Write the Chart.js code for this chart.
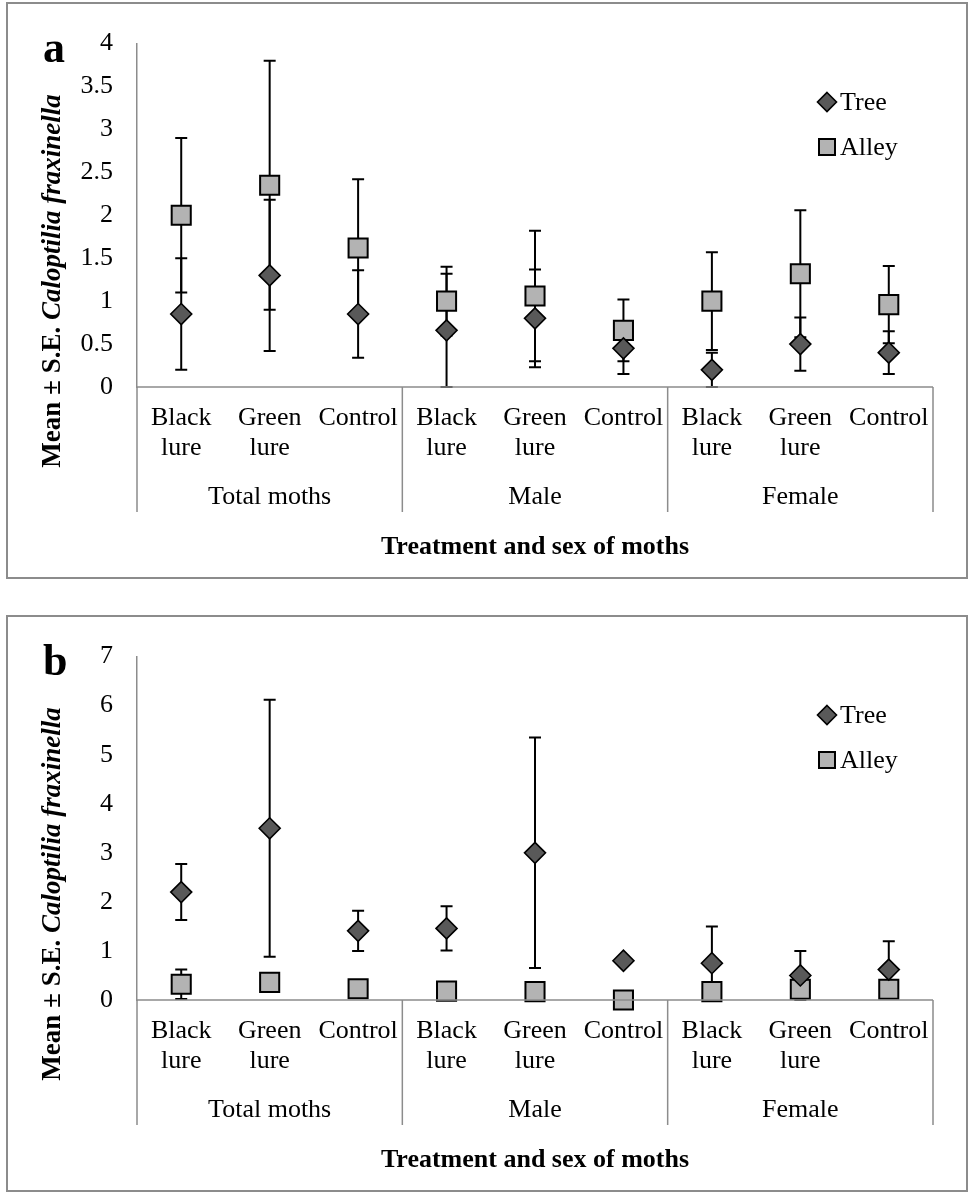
<!DOCTYPE html>
<html>
<head>
<meta charset="utf-8">
<script src="https://cdn.jsdelivr.net/npm/chart.js@4/dist/chart.umd.min.js"></script>
<style>
  body { margin: 0; background: #fff; width: 968px; height: 1192px; position: relative; overflow: hidden; }
  .panel { position: absolute; left: 6px; width: 958px; height: 573px; border: 2px solid #8c8c8c; background: #fff; }
  #panelA { top: 2px; }
  #panelB { top: 615px; }
  canvas { display: block; }
</style>
</head>
<body>
<div class="panel" id="panelA"><canvas id="chartA" width="958" height="573"></canvas></div>
<div class="panel" id="panelB"><canvas id="chartB" width="958" height="573"></canvas></div>
<script>
const categories = ['Black lure', 'Green lure', 'Control', 'Black lure', 'Green lure', 'Control', 'Black lure', 'Green lure', 'Control'];
const groups = ['Total moths', 'Male', 'Female'];
const yTitle = 'Mean \u00b1 S.E. ';
const yTitleItalic = 'Caloptilia fraxinella';
const xTitle = 'Treatment and sex of moths';

// panel a
const treeA = [0.85, 1.3, 0.85, 0.66, 0.8, 0.45, 0.2, 0.5, 0.4];
const treeAse = [0.65, 0.88, 0.51, 0.66, 0.57, 0.3, 0.2, 0.31, 0.25];
const alleyA = [2.0, 2.35, 1.62, 1.0, 1.06, 0.66, 1.0, 1.32, 0.96];
const alleyAse = [0.9, 1.45, 0.8, 0.4, 0.76, 0.36, 0.57, 0.74, 0.45];

// panel b
const treeB = [2.2, 3.5, 1.41, 1.46, 3.0, 0.8, 0.75, 0.5, 0.62];
const treeBse = [0.57, 2.62, 0.41, 0.45, 2.35, 0, 0.75, 0.5, 0.58];
const alleyB = [0.32, 0.36, 0.23, 0.18, 0.17, 0, 0.17, 0.22, 0.22];
const alleyBse = [0.3, 0, 0, 0, 0, 0, 0, 0, 0];

const serif = "'Liberation Serif', 'Times New Roman', serif";
const axisGray = '#8c8c8c';
const fs = 26;

function diamond(ctx, x, y, r) {
  ctx.beginPath();
  ctx.moveTo(x, y - r); ctx.lineTo(x + r, y); ctx.lineTo(x, y + r); ctx.lineTo(x - r, y);
  ctx.closePath();
}

const errorBars = {
  id: 'errorBars',
  beforeDatasetsDraw(chart) {
    const ctx = chart.ctx, ys = chart.scales.y;
    ctx.save();
    ctx.strokeStyle = '#000';
    ctx.lineWidth = 2;
    chart.data.datasets.forEach((ds, di) => {
      const meta = chart.getDatasetMeta(di);
      ds.se.forEach((se, i) => {
        if (!se) return;
        const pt = meta.data[i];
        const v = ds.data[i];
        const yTop = ys.getPixelForValue(v + se);
        const yBot = ys.getPixelForValue(Math.max(0, v - se));
        ctx.beginPath();
        ctx.moveTo(pt.x, yTop); ctx.lineTo(pt.x, yBot);
        ctx.moveTo(pt.x - 6, yTop); ctx.lineTo(pt.x + 6, yTop);
        ctx.moveTo(pt.x - 6, yBot); ctx.lineTo(pt.x + 6, yBot);
        ctx.stroke();
      });
    });
    ctx.restore();
  }
};

const decorations = {
  id: 'decorations',
  afterDraw(chart, args, opts) {
    const ctx = chart.ctx, a = chart.chartArea, xs = chart.scales.x;
    ctx.save();
    // x axis line and group separators
    ctx.strokeStyle = axisGray;
    ctx.lineWidth = 1.5;
    ctx.beginPath();
    ctx.moveTo(a.left, a.bottom); ctx.lineTo(a.right, a.bottom);
    const gw = (a.right - a.left) / groups.length;
    for (let k = 0; k <= groups.length; k++) {
      const x = a.left + k * gw;
      ctx.moveTo(x, a.bottom); ctx.lineTo(x, a.bottom + 125);
    }
    ctx.stroke();

    // category labels
    ctx.fillStyle = '#000';
    ctx.font = fs + 'px ' + serif;
    ctx.textAlign = 'center';
    ctx.textBaseline = 'middle';
    categories.forEach((c, i) => {
      const x = xs.getPixelForValue(i);
      const lines = c === 'Control' ? [c] : c.split(' ');
      lines.forEach((ln, j) => ctx.fillText(ln, x, a.bottom + 31 + j * 30));
    });
    groups.forEach((g, k) => ctx.fillText(g, a.left + (k + 0.5) * gw, a.bottom + 110));

    // x title
    ctx.font = 'bold ' + fs + 'px ' + serif;
    ctx.fillText(xTitle, (a.left + a.right) / 2, a.bottom + 160);

    // y title (bold + bold italic)
    ctx.translate(45, 277);
    ctx.rotate(-Math.PI / 2);
    ctx.font = 'bold 27px ' + serif;
    const w1 = ctx.measureText(yTitle).width;
    ctx.font = 'italic bold 27px ' + serif;
    const w2 = ctx.measureText(yTitleItalic).width;
    ctx.textAlign = 'left';
    ctx.font = 'bold 27px ' + serif;
    ctx.fillText(yTitle, -(w1 + w2) / 2, 0);
    ctx.font = 'italic bold 27px ' + serif;
    ctx.fillText(yTitleItalic, -(w1 + w2) / 2 + w1, 0);
    ctx.setTransform(1, 0, 0, 1, 0, 0);

    // panel letter
    ctx.font = 'bold 44px ' + serif;
    ctx.textAlign = 'left';
    ctx.textBaseline = 'alphabetic';
    ctx.fillText(opts.letter, 35, 58);

    // legend
    ctx.lineWidth = 1.6;
    ctx.strokeStyle = '#000';
    ctx.fillStyle = '#595959';
    diamond(ctx, 819, 98, 9.5);
    ctx.fill(); ctx.stroke();
    ctx.fillStyle = '#b3b3b3';
    ctx.lineWidth = 2;
    ctx.fillRect(811, 135, 16, 16);
    ctx.strokeRect(811, 135, 16, 16);
    ctx.fillStyle = '#000';
    ctx.font = fs + 'px ' + serif;
    ctx.textBaseline = 'middle';
    ctx.fillText('Tree', 832, 99);
    ctx.fillText('Alley', 832, 144);
    ctx.restore();
  }
};

function makePanel(id, letter, yMax, step, tree, treeSe, alley, alleySe) {
  return new Chart(document.getElementById(id), {
    type: 'line',
    data: {
      labels: categories,
      datasets: [
        { label: 'Tree', data: tree, se: treeSe, showLine: false, clip: false,
          pointStyle: 'rectRot', pointRadius: 10.5, pointHoverRadius: 10.5,
          pointBackgroundColor: '#595959', pointBorderColor: '#000', pointBorderWidth: 1.6 },
        { label: 'Alley', data: alley, se: alleySe, showLine: false, clip: false,
          pointStyle: 'rect', pointRadius: 13.5, pointHoverRadius: 13.5,
          pointBackgroundColor: '#b3b3b3', pointBorderColor: '#000', pointBorderWidth: 2 }
      ]
    },
    options: {
      responsive: false,
      animation: false,
      devicePixelRatio: 1,
      layout: { padding: { left: 0, top: 36, right: 33, bottom: 190 } },
      plugins: {
        legend: { display: false },
        tooltip: { enabled: false },
        decorations: { letter }
      },
      scales: {
        x: { type: 'category', offset: true, display: false },
        y: {
          min: 0, max: yMax,
          afterFit: s => { s.width = 129; },
          grid: { display: false, drawTicks: false },
          border: { display: true, color: axisGray, width: 1.5 },
          ticks: {
            stepSize: step, padding: 24, color: '#000',
            font: { family: serif, size: fs },
            callback: v => String(+v.toFixed(1))
          }
        }
      }
    },
    plugins: [errorBars, decorations]
  });
}

makePanel('chartA', 'a', 4, 0.5, treeA, treeAse, alleyA, alleyAse);
makePanel('chartB', 'b', 7, 1, treeB, treeBse, alleyB, alleyBse);
</script>
</body>
</html>
